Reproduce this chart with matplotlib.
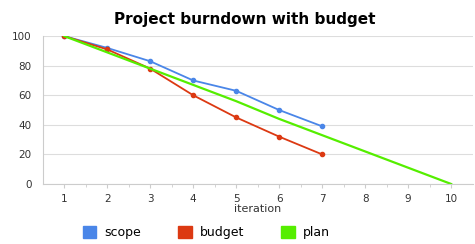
import matplotlib.pyplot as plt

iterations = [1, 2, 3, 4, 5, 6, 7, 8, 9, 10]
scope = [100, 92, 83, 70, 63, 50, 39]
budget = [100, 91, 78, 60, 45, 32, 20]
plan = [100, 89, 78, 67, 56, 44, 33, 22, 11, 0]

c_scope = '#4a86e8'
c_budget = '#dc3912'
c_plan = '#55ee00'

fig = plt.figure(figsize=(4.75, 2.44), dpi=100)
ax = fig.add_axes([0.09, 0.246, 0.905, 0.606])

ax.plot(iterations[:len(scope)], scope, '-o', color=c_scope, lw=1.3, ms=3, label='scope')
ax.plot(iterations[:len(budget)], budget, '-o', color=c_budget, lw=1.3, ms=3, label='budget')
ax.plot(iterations, plan, '-', color=c_plan, lw=1.6, label='plan')

ax.set_xlim(0.5, 10.5)
ax.set_ylim(0, 100)
ax.set_xticks(iterations)
ax.set_xticks([i + 0.5 for i in iterations[:-1]], minor=True)
ax.set_yticks([0, 20, 40, 60, 80, 100])
ax.grid(axis='y', color='#dddddd', lw=0.8)
ax.set_axisbelow(True)
for s in ['top', 'right']:
    ax.spines[s].set_visible(False)
ax.spines['left'].set_color('#cccccc')
ax.spines['bottom'].set_color('#cccccc')
ax.tick_params(axis='both', labelsize=7.5, colors='#333333', length=3)
ax.tick_params(axis='y', length=0, pad=8)
ax.tick_params(axis='x', color='#cccccc', pad=4)
ax.tick_params(axis='x', which='minor', length=2, color='#cccccc')
ax.set_xlabel('iteration', fontsize=8, color='#333333', labelpad=0)

ax.set_title('Project burndown with budget', fontsize=11, fontweight='bold', pad=9, x=0.47)

ax.legend(loc='upper center', bbox_to_anchor=(0.38, -0.21), ncol=3, frameon=False,
          fontsize=9, handlelength=1.1, handleheight=1.0, handletextpad=0.6, columnspacing=3.0,
          handles=[plt.Rectangle((0, 0), 1, 1, color=c) for c in (c_scope, c_budget, c_plan)],
          labels=['scope', 'budget', 'plan'])

fig.savefig('out.png', dpi=100)
